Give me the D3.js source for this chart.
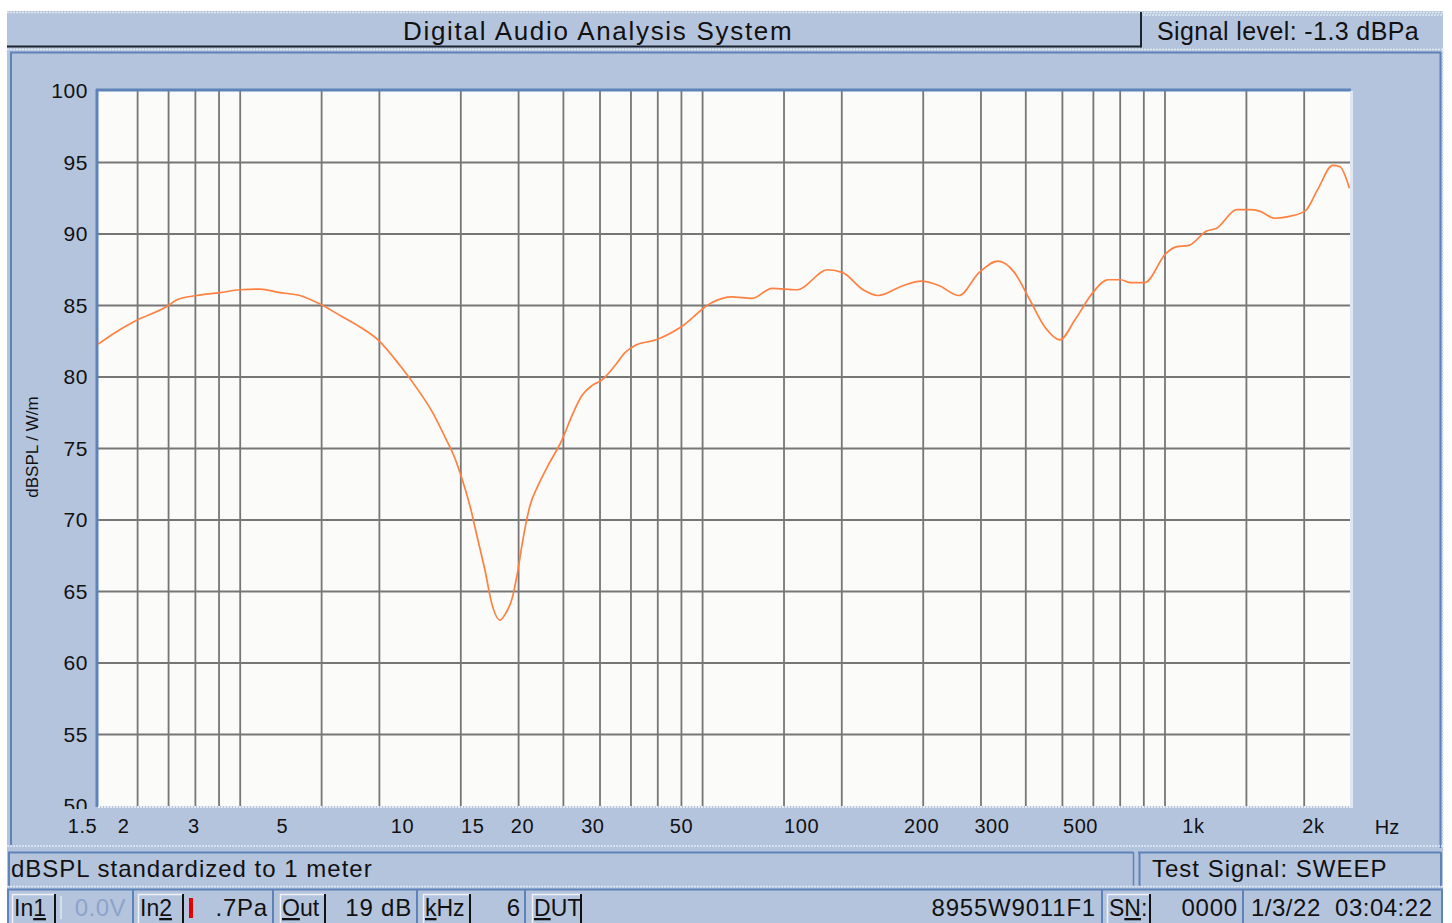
<!DOCTYPE html>
<html>
<head>
<meta charset="utf-8">
<script src="https://cdn.jsdelivr.net/npm/d3@7"></script>
<style>
  body { margin: 0; background: #ffffff; }
  text { font-family: "Liberation Sans", Arial, sans-serif; fill: #111; }
</style>
</head>
<body>
<div id="chart"></div>
<script>
// Frequency response (Hz, dB SPL)
var freqHz = [1.68, 1.89, 2.14, 2.60, 2.73, 3.06, 3.50, 3.93, 4.41, 4.95, 5.55, 6.23, 7.00, 7.85, 8.71,
              9.89, 10.97, 11.89, 12.82, 13.58, 14.06, 14.80, 15.50, 16.14, 16.81, 17.61, 18.13, 18.87,
              19.53, 20.0, 20.93, 21.92, 23.22, 25.18, 26.67, 28.25, 29.93, 31.71, 34.18, 36.21, 38.36,
              43.31, 50.02, 59.67, 67.02, 75.36, 84.58, 97.70, 116.6, 127.2, 143.0, 155.9, 180.5, 199.8,
              221.4, 248.7, 279.2, 311.6, 342.7, 374.2, 408.1, 445.5, 485.8, 540.9, 593.7, 641.4, 682.4,
              744.1, 847.4, 901.0, 974.4, 1081, 1146, 1288, 1385, 1468, 1602, 1721, 1910, 2054, 2241,
              2338, 2468];
var splDb = [82.3, 83.1, 83.9, 85.0, 85.4, 85.7, 85.9, 86.1, 86.15, 85.9, 85.7, 85.1, 84.3, 83.5, 82.6,
             80.8, 79.1, 77.6, 75.8, 74.3, 73.1, 71.0, 68.6, 66.5, 64.1, 63.0, 63.4, 64.5,
             66.5, 68.3, 71.0, 72.4, 73.8, 75.6, 77.3, 78.7, 79.4, 79.8, 80.8, 81.7, 82.2,
             82.6, 83.5, 85.2, 85.6, 85.5, 86.2, 86.1, 87.5, 87.3, 86.1, 85.7, 86.4, 86.7,
             86.4, 85.7, 87.3, 88.1, 87.3, 85.4, 83.5, 82.6, 84.0, 85.9, 86.8, 86.8, 86.6,
             86.6, 88.65, 89.1, 89.2, 90.2, 90.4, 91.7, 91.7, 91.6, 91.1, 91.2, 91.6, 93.1, 94.8,
             94.7, 93.2];

// Axis ticks
var xTickValues = [1.5, 2, 3, 5, 10, 15, 20, 30, 50, 100, 200, 300, 500, 1000, 2000];
var xTickLabels = ["1.5", "2", "3", "5", "10", "15", "20", "30", "50", "100", "200", "300", "500", "1k", "2k"];
var yTickValues = [50, 55, 60, 65, 70, 75, 80, 85, 90, 95, 100];

// Vertical grid (the screen's own log grid)
var gridHz = [6, 7, 8, 9, 10, 15, 20, 30, 40, 50, 60, 70, 80, 90, 100, 150, 200, 300, 400, 500,
              600, 700, 800, 900, 1000, 1500, 2000];

// Texts
var titleText = "Digital Audio Analysis System";
var signalText = "Signal level: -1.3 dBPa";
var yTitle = "dBSPL / W/m";
var noteText = "dBSPL standardized to 1 meter";
var testText = "Test Signal: SWEEP";

// Setup
var svgWidth = 1452;
var svgHeight = 923;
var margin = { top: 91, left: 98 };
var width = 1252;
var height = 715;

var panelFill = "#b5c4dd";
var edgeBlue = "#5e82ba";
var edgeLight = "#e2e9f4";

var svg = d3.select("#chart")
    .append("svg")
    .attr("width", svgWidth)
    .attr("height", svgHeight);

svg.append("rect").attr("width", svgWidth).attr("height", svgHeight).attr("fill", "#ffffff");

function hline(x1, x2, y, color, w, dash) {
    svg.append("line").attr("x1", x1).attr("x2", x2).attr("y1", y).attr("y2", y)
        .attr("stroke", color).attr("stroke-width", w || 1)
        .attr("stroke-dasharray", dash || null);
}
function vline(x, y1, y2, color, w, dash) {
    svg.append("line").attr("x1", x).attr("x2", x).attr("y1", y1).attr("y2", y2)
        .attr("stroke", color).attr("stroke-width", w || 1)
        .attr("stroke-dasharray", dash || null);
}

// ---- title bar ----
svg.append("rect").attr("x", 7).attr("y", 11).attr("width", 1436).attr("height", 38).attr("fill", panelFill);
hline(7, 1443, 12.5, edgeLight, 1.5, "2,1");
hline(7, 1141, 46.5, "#1c2430", 2);
vline(1141, 12, 47.5, "#1c2430", 2);
hline(1143, 1443, 15, edgeLight, 1.5, "2,1");

svg.append("text").attr("x", 403).attr("y", 40)
    .attr("font-size", 26).attr("letter-spacing", 1.7)
    .text(titleText);
svg.append("text").attr("x", 1157).attr("y", 40)
    .attr("font-size", 25).attr("letter-spacing", 0.4)
    .text(signalText);

// ---- chart panel ----
svg.append("rect").attr("x", 7).attr("y", 48).attr("width", 1436).attr("height", 801).attr("fill", panelFill);
hline(7, 1443, 49.5, edgeLight, 1.5, "2,1");
hline(10, 1441, 52.5, edgeBlue, 2);
vline(11, 52, 845, edgeBlue, 2);
vline(1440.5, 52, 848, edgeBlue, 2);
vline(1443, 48, 850, edgeLight, 1.5, "2,1");
hline(7, 1443, 846, edgeLight, 1.5, "2,1");

var chartGroup = svg.append("g")
    .attr("transform", `translate(${margin.left}, ${margin.top})`);

// scales
var xScale = d3.scaleLog()
    .domain([1.5, 2, 500, 1000, 2000])
    .range([-16, 25, 982, 1095, 1215]);

var gridScale = d3.scaleLog()
    .domain([5, 2500])
    .range([3, width - 1]);

var yScale = d3.scaleLinear()
    .domain([50, 100])
    .range([height, 0]);

// plot area
chartGroup.append("rect")
    .attr("width", width).attr("height", height)
    .attr("fill", "#fbfcfa");

// grid
chartGroup.append("g").selectAll("line")
    .data(gridHz)
    .enter()
    .append("line")
    .attr("x1", d => gridScale(d)).attr("x2", d => gridScale(d))
    .attr("y1", 0).attr("y2", height)
    .attr("stroke", "#767676").attr("stroke-width", 1.8);

chartGroup.append("g").selectAll("line")
    .data(yTickValues.filter(d => d > 50 && d < 100))
    .enter()
    .append("line")
    .attr("x1", 0).attr("x2", width)
    .attr("y1", d => yScale(d)).attr("y2", d => yScale(d))
    .attr("stroke", "#767676").attr("stroke-width", 1.8);

// frame of the plot (sunken look)
chartGroup.append("line").attr("x1", -2).attr("x2", width + 1).attr("y1", -1).attr("y2", -1)
    .attr("stroke", edgeBlue).attr("stroke-width", 3);
chartGroup.append("line").attr("x1", -1).attr("x2", -1).attr("y1", -2).attr("y2", height + 1)
    .attr("stroke", edgeBlue).attr("stroke-width", 3);
chartGroup.append("line").attr("x1", 0).attr("x2", width + 2).attr("y1", height + 1).attr("y2", height + 1)
    .attr("stroke", "#e4ebf5").attr("stroke-width", 2).attr("stroke-dasharray", "2,1");
chartGroup.append("line").attr("x1", width + 1.5).attr("x2", width + 1.5).attr("y1", 0).attr("y2", height + 2)
    .attr("stroke", "#dfe7f3").attr("stroke-width", 3);

// curve
svg.append("defs").append("clipPath").attr("id", "plotClip")
    .append("rect").attr("width", width).attr("height", height);

var points = freqHz.map((f, i) => [f, splDb[i]]);
var line = d3.line()
    .x(d => xScale(d[0]))
    .y(d => yScale(d[1]))
    .curve(d3.curveMonotoneX);

chartGroup.append("path")
    .datum(points)
    .attr("clip-path", "url(#plotClip)")
    .attr("d", line)
    .attr("fill", "none")
    .attr("stroke", "#ff8040")
    .attr("stroke-width", 1.7);

// axes
svg.select("defs").append("clipPath").attr("id", "yLabelClip")
    .append("rect").attr("x", -95).attr("y", -20).attr("width", 95).attr("height", height + 23);

var leftAxis = d3.axisLeft(yScale).tickValues(yTickValues).tickSize(0).tickPadding(10);
var yAxisG = chartGroup.append("g")
    .attr("clip-path", "url(#yLabelClip)")
    .call(leftAxis);
yAxisG.select(".domain").remove();
yAxisG.attr("font-size", 21).attr("font-family", "Liberation Sans, Arial, sans-serif");
yAxisG.selectAll("text").attr("fill", "#111").attr("letter-spacing", 0.6);

var bottomAxis = d3.axisBottom(xScale)
    .tickValues(xTickValues)
    .tickFormat((d, i) => xTickLabels[i])
    .tickSize(0)
    .tickPadding(13);
var xAxisG = chartGroup.append("g")
    .attr("transform", `translate(0, ${height})`)
    .call(bottomAxis);
xAxisG.select(".domain").remove();
xAxisG.attr("font-size", 20).attr("font-family", "Liberation Sans, Arial, sans-serif");
xAxisG.selectAll("text").attr("fill", "#111").attr("letter-spacing", 0.6);

svg.append("text").attr("x", 1387).attr("y", 834)
    .attr("text-anchor", "middle").attr("font-size", 20)
    .text("Hz");

// y axis title
svg.append("text")
    .attr("transform", "translate(38, 447) rotate(-90)")
    .attr("text-anchor", "middle")
    .attr("font-size", 17)
    .text(yTitle);

// ---- info row ----
svg.append("rect").attr("x", 7).attr("y", 849).attr("width", 1436).attr("height", 74).attr("fill", panelFill);
hline(8, 1133, 852.5, edgeBlue, 2);
vline(9, 852, 886, edgeBlue, 2);
vline(1133.5, 852, 886, edgeBlue, 1.5);
hline(1138, 1441, 852.5, edgeBlue, 2);
vline(1139.5, 852, 886, edgeBlue, 2);
vline(1441, 852, 886, edgeBlue, 2);
hline(7, 1443, 886.5, edgeLight, 1.5, "2,1");

svg.append("text").attr("x", 11).attr("y", 877)
    .attr("font-size", 24).attr("letter-spacing", 1)
    .text(noteText);
svg.append("text").attr("x", 1152).attr("y", 877)
    .attr("font-size", 24).attr("letter-spacing", 1)
    .text(testText);

// ---- status row ----
hline(7, 1443, 889.5, edgeBlue, 2);
[8, 133, 273, 417, 525, 1102, 1243, 1442].forEach(function (x) {
    vline(x, 889, 923, edgeBlue, 2);
});

function button(x, w, pre, ul, post) {
    svg.append("rect").attr("x", x).attr("y", 894).attr("width", w).attr("height", 29)
        .attr("fill", panelFill).attr("stroke", "none");
    vline(x + 0.5, 894, 923, "#eef2f8", 1.5);
    hline(x, x + w, 894.5, "#eef2f8", 1.5);
    vline(x + w, 894, 923, "#111", 2);
    var t = svg.append("text").attr("x", x + 2).attr("y", 916).attr("font-size", 23);
    if (pre) t.append("tspan").text(pre);
    t.append("tspan").attr("text-decoration", "underline").text(ul);
    if (post) t.append("tspan").text(post);
}

button(12, 43, "In", "1", "");
button(138, 45, "In", "2", "");
button(280, 45, "", "O", "ut");
button(423, 47, "", "k", "Hz");
button(532, 49, "", "D", "UT");
button(1107, 43, "S", "N", ":");

vline(61, 896, 919, "#d6deec", 2);
svg.append("text").attr("x", 126).attr("y", 916).attr("text-anchor", "end")
    .attr("font-size", 24).attr("letter-spacing", 0.5).style("fill", "#8ca3cc")
    .text("0.0V");

svg.append("rect").attr("x", 189).attr("y", 898).attr("width", 4).attr("height", 20).attr("fill", "#e40000");

function status(xEnd, s) {
    svg.append("text").attr("x", xEnd).attr("y", 916).attr("text-anchor", "end")
        .attr("font-size", 24).attr("letter-spacing", 0.8)
        .text(s);
}
status(268, ".7Pa");
status(412, "19 dB");
status(521, "6");
status(1096, "8955W9011F1");
status(1238, "0000");
svg.append("text").attr("x", 1251).attr("y", 916)
    .attr("font-size", 24).attr("letter-spacing", 0.5)
    .attr("xml:space", "preserve").style("white-space", "pre")
    .text("1/3/22  03:04:22");
</script>
</body>
</html>
